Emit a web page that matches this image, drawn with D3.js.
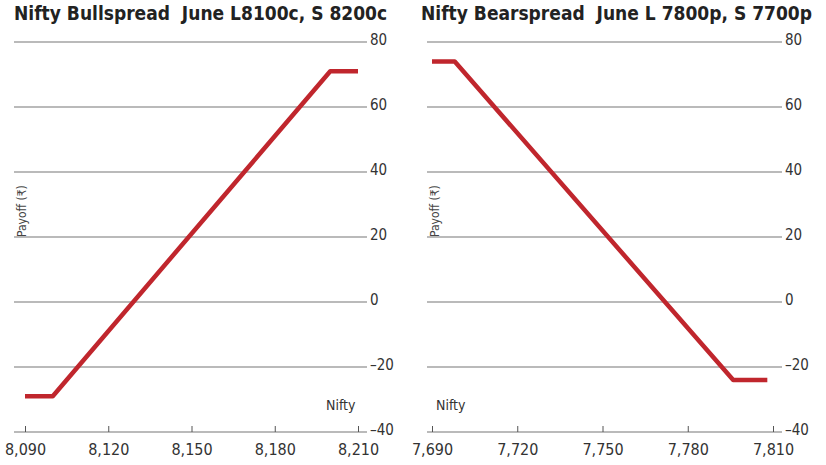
<!DOCTYPE html>
<html><head><meta charset="utf-8">
<script src="https://cdn.jsdelivr.net/npm/d3@7"></script>
<style>body{margin:0;background:#fff}text{font-family:"Liberation Sans Narrow","DejaVu Sans Condensed","Roboto Condensed",sans-serif}</style>
</head><body><svg id="c" width="826" height="465"></svg>
<script>
const yTicks = [80, 60, 40, 20, 0, -20, -40];
const bullTitle = "Nifty Bullspread  June L8100c, S 8200c";
const bullTicks = [8090, 8120, 8150, 8180, 8210];
const bullX = [8090, 8100, 8200, 8210];
const bullY = [-29, -29, 71, 71];
const bearTitle = "Nifty Bearspread  June L 7800p, S 7700p";
const bearTicks = [7690, 7720, 7750, 7780, 7810];
const bearX = [7690, 7698, 7796, 7808];
const bearY = [74, 74, -24, -24];

const svg = d3.select("#c");
function panel(o){
  const g = svg.append("g");
  const x = d3.scaleLinear().domain([o.ticks[0], o.ticks[4]]).range([o.x0, o.x1]);
  const y = d3.scaleLinear().domain([-40, 80]).range([o.yb, o.yt]);
  g.append("text").attr("x", o.tx).attr("y", 20).attr("font-size", 19).attr("font-weight", "bold")
    .attr("fill", "#222").attr("xml:space","preserve").text(o.title);
  yTicks.forEach(t => {
    g.append("line").attr("x1", o.g0).attr("x2", o.g1).attr("y1", y(t)).attr("y2", y(t))
      .attr("stroke", "#777").attr("stroke-width", 1.2);
    g.append("text").attr("x", o.g1 + 3).attr("y", y(t) + 3).attr("font-size", 15).attr("fill", "#333")
      .text(t < 0 ? "\u2013" + Math.abs(t) : t);
  });
  const xa = g.append("g").attr("transform", `translate(0,${y(-40)})`)
    .call(d3.axisBottom(x).tickValues(o.ticks).tickSize(-6).tickFormat(d3.format(",")));
  xa.select(".domain").remove();
  xa.selectAll("line").attr("stroke", "#555");
  xa.selectAll("text").attr("font-size", 16).attr("fill", "#333").attr("dy", "1.25em");
  g.append("text").attr("x", o.nx).attr("y", y(-40) - 22).attr("font-size", 14).attr("fill", "#333").text("Nifty");
  g.append("text").attr("transform", `translate(${o.g0 + 12},${y(20)}) rotate(-90)`)
    .attr("font-size", 12).attr("fill", "#444").text("Payoff (\u20b9)");
  const pts = o.xs.map((v, i) => [v, o.ys[i]]);
  g.append("path").datum(pts).attr("fill", "none").attr("stroke", "#c0262d").attr("stroke-width", 4.5)
    .attr("stroke-linejoin", "round")
    .attr("d", d3.line().x(d => x(d[0])).y(d => y(d[1])));
}
panel({title: bullTitle, ticks: bullTicks, xs: bullX, ys: bullY, x0: 25, x1: 358, g0: 14, g1: 367, yt: 42, yb: 432, tx: 14, nx: 326});
panel({title: bearTitle, ticks: bearTicks, xs: bearX, ys: bearY, x0: 432, x1: 773, g0: 427, g1: 782, yt: 42, yb: 432, tx: 421, nx: 436});
</script></body></html>
